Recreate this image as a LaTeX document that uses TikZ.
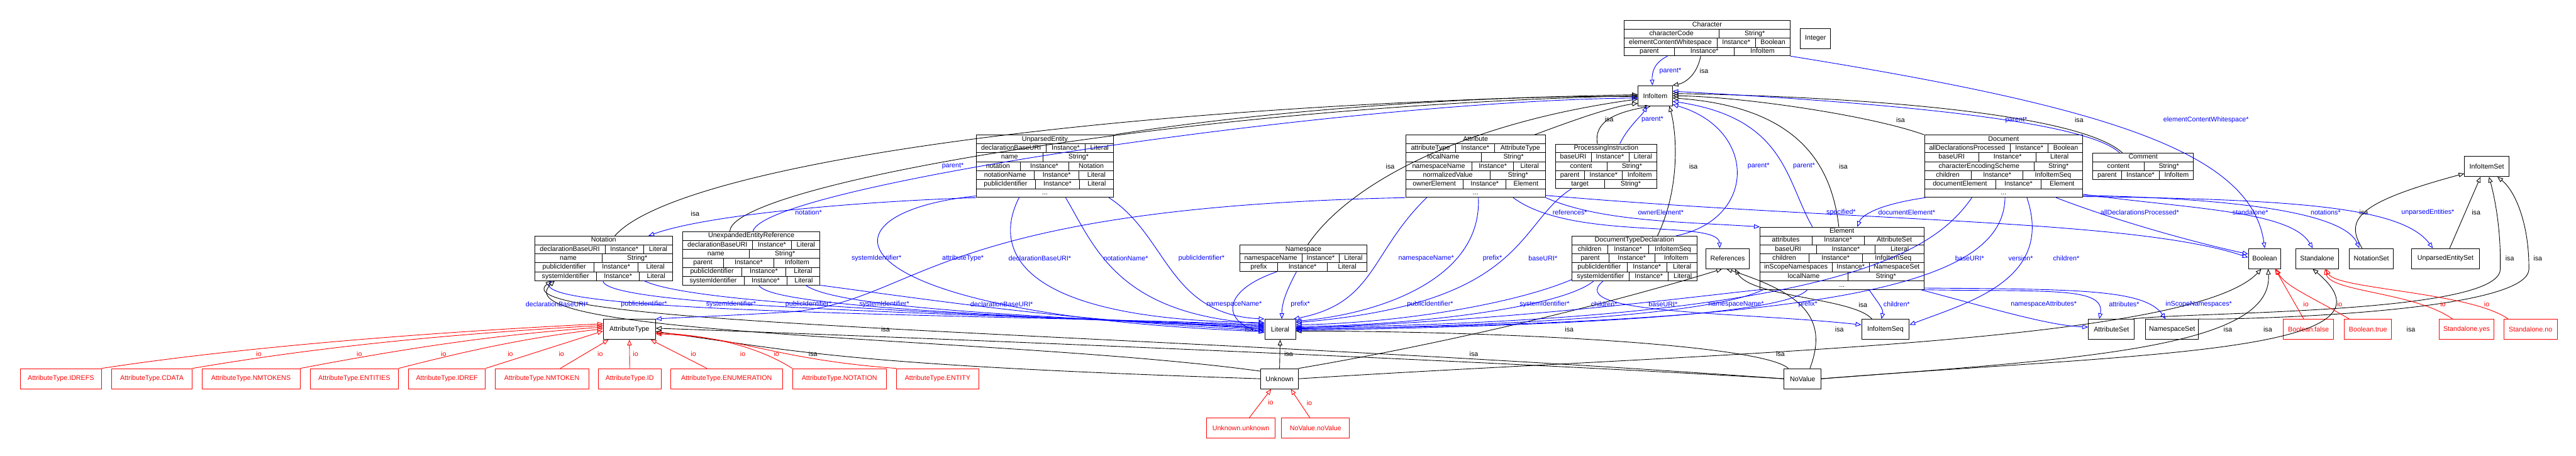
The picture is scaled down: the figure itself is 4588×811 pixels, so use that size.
\documentclass[tikz,border=0pt]{standalone}
\usepackage{fontspec}
\setmainfont{Liberation Sans}
\usetikzlibrary{arrows.meta,calc}

% slot tables: one hbox per row, free space shared out between the cells
\newlength\rw \setlength\rw{0.5pt}
\newlength\tabw \newlength\cwa \newlength\cwb \newlength\cwc \newlength\cellpad
\newcommand\strutr{\rule[-2.2pt]{0pt}{7.5pt}}
\newcommand\rowrule{\hrule height\rw}
\newcommand\rowa[1]{\hbox to\tabw{\strutr\hss#1\hss}}
\newcommand\rowb[2]{\settowidth\cwa{#1}\settowidth\cwb{#2}%
  \cellpad=\dimexpr(\tabw-\cwa-\cwb-\rw)/2\relax
  \hbox to\tabw{\strutr\hbox to\dimexpr\cwa+\cellpad\relax{\hss#1\hss}\vrule width\rw
    \hbox to\dimexpr\cwb+\cellpad\relax{\hss#2\hss}}}
\newcommand\rowc[3]{\settowidth\cwa{#1}\settowidth\cwb{#2}\settowidth\cwc{#3}%
  \cellpad=\dimexpr(\tabw-\cwa-\cwb-\cwc-2\rw)/3\relax
  \hbox to\tabw{\strutr\hbox to\dimexpr\cwa+\cellpad\relax{\hss#1\hss}\vrule width\rw
    \hbox to\dimexpr\cwb+\cellpad\relax{\hss#2\hss}\vrule width\rw
    \hbox to\dimexpr\cwc+\cellpad\relax{\hss#3\hss}}}
\newcommand\classbox[2]{\setlength\tabw{#1}\vbox{\offinterlineskip#2}}

\begin{document}
\begin{tikzpicture}[x=0.5pt,y=-0.5pt,
  cls/.style={draw,line width=0.5pt,inner sep=0pt,anchor=north west,font=\fontsize{6}{7}\selectfont},
  box/.style={cls,minimum height=18pt},
  rbox/.style={box,draw=red,text=red},
  isa/.style={draw=black,line width=0.5pt,-{Triangle[open,length=5pt,width=4pt]}},
  slot/.style={isa,draw=blue},
  io/.style={isa,draw=red},
  lk/.style={inner sep=0pt,font=\fontsize{6}{7}\selectfont},
  lb/.style={lk,text=blue},
  lr/.style={lk,text=red}]
\fill[white] (0,0) rectangle (4588,811);
\useasboundingbox (0,0) rectangle (4588,811);

% classes with slots
\node[cls] (Character) at (2892,36) {\classbox{148pt}{\rowa{Character}\rowrule\rowb{characterCode}{String*}\rowrule
  \rowc{elementContentWhitespace}{Instance*}{Boolean}\rowrule\rowc{parent}{Instance*}{InfoItem}}};
\node[cls] (UnparsedEntity) at (1738,240) {\classbox{122.5pt}{\rowa{UnparsedEntity}\rowrule
  \rowc{declarationBaseURI}{Instance*}{Literal}\rowrule\rowb{name}{String*}\rowrule
  \rowc{notation}{Instance*}{Notation}\rowrule\rowc{notationName}{Instance*}{Literal}\rowrule
  \rowc{publicIdentifier}{Instance*}{Literal}\rowrule\rowa{...}}};
\node[cls] (Attribute) at (2503,240) {\classbox{124.5pt}{\rowa{Attribute}\rowrule
  \rowc{attributeType}{Instance*}{AttributeType}\rowrule\rowb{localName}{String*}\rowrule
  \rowc{namespaceName}{Instance*}{Literal}\rowrule\rowb{normalizedValue}{String*}\rowrule
  \rowc{ownerElement}{Instance*}{Element}\rowrule\rowa{...}}};
\node[cls] (ProcInstr) at (2770,256) {\classbox{90pt}{\rowa{ProcessingInstruction}\rowrule
  \rowc{baseURI}{Instance*}{Literal}\rowrule\rowb{content}{String*}\rowrule
  \rowc{parent}{Instance*}{InfoItem}\rowrule\rowb{target}{String*}}};
\node[cls] (Document) at (3427,240) {\classbox{141pt}{\rowa{Document}\rowrule
  \rowc{allDeclarationsProcessed}{Instance*}{Boolean}\rowrule\rowc{baseURI}{Instance*}{Literal}\rowrule
  \rowb{characterEncodingScheme}{String*}\rowrule\rowc{children}{Instance*}{InfoItemSeq}\rowrule
  \rowc{documentElement}{Instance*}{Element}\rowrule\rowa{...}}};
\node[cls] (Comment) at (3727,272) {\classbox{89.5pt}{\rowa{Comment}\rowrule\rowb{content}{String*}\rowrule
  \rowc{parent}{Instance*}{InfoItem}}};
\node[cls] (Notation) at (952,420) {\classbox{122.5pt}{\rowa{Notation}\rowrule
  \rowc{declarationBaseURI}{Instance*}{Literal}\rowrule\rowb{name}{String*}\rowrule
  \rowc{publicIdentifier}{Instance*}{Literal}\rowrule\rowc{systemIdentifier}{Instance*}{Literal}}};
\node[cls] (UnexpRef) at (1215,412) {\classbox{122.5pt}{\rowa{UnexpandedEntityReference}\rowrule
  \rowc{declarationBaseURI}{Instance*}{Literal}\rowrule\rowb{name}{String*}\rowrule
  \rowc{parent}{Instance*}{InfoItem}\rowrule\rowc{publicIdentifier}{Instance*}{Literal}\rowrule
  \rowc{systemIdentifier}{Instance*}{Literal}}};
\node[cls] (Namespace) at (2208,436) {\classbox{113pt}{\rowa{Namespace}\rowrule
  \rowc{namespaceName}{Instance*}{Literal}\rowrule\rowc{prefix}{Instance*}{Literal}}};
\node[cls] (DocTypeDecl) at (2799,420) {\classbox{111.5pt}{\rowa{DocumentTypeDeclaration}\rowrule
  \rowc{children}{Instance*}{InfoItemSeq}\rowrule\rowc{parent}{Instance*}{InfoItem}\rowrule
  \rowc{publicIdentifier}{Instance*}{Literal}\rowrule\rowc{systemIdentifier}{Instance*}{Literal}}};
\node[cls] (Element) at (3134,404) {\classbox{146pt}{\rowa{Element}\rowrule
  \rowc{attributes}{Instance*}{AttributeSet}\rowrule\rowc{baseURI}{Instance*}{Literal}\rowrule
  \rowc{children}{Instance*}{InfoItemSeq}\rowrule\rowc{inScopeNamespaces}{Instance*}{NamespaceSet}\rowrule
  \rowb{localName}{String*}\rowrule\rowa{...}}};

% plain classes
\node[box,minimum width=27pt] (Integer) at (3206,50) {Integer};
\node[box,minimum width=30.5pt] (InfoItem) at (2917,152) {InfoItem};
\node[box,minimum width=39.5pt] (InfoItemSet) at (4389,278) {InfoItemSet};
\node[box,minimum width=46.5pt] (AttrType) at (1074,568) {AttributeType};
\node[box,minimum width=27.5pt] (Literal) at (2252,568) {Literal};
\node[box,minimum width=38.5pt] (References) at (3038,442) {References};
\node[box,minimum width=42.5pt] (InfoItemSeq) at (3315,568) {InfoItemSeq};
\node[box,minimum width=41pt] (AttributeSet) at (3719,568) {AttributeSet};
\node[box,minimum width=47pt] (NamespaceSet) at (3821,568) {NamespaceSet};
\node[box,minimum width=29pt] (Boolean) at (4004,442) {Boolean};
\node[box,minimum width=38.5pt] (Standalone) at (4088,442) {Standalone};
\node[box,minimum width=39pt] (NotationSet) at (4184,442) {NotationSet};
\node[box,minimum width=60pt] (UnparsedEntitySet) at (4295,442) {UnparsedEntitySet};
\node[box,minimum width=33.5pt] (Unknown) at (2245,656) {Unknown};
\node[box,minimum width=33pt] (NoValue) at (3177,656) {NoValue};

% instances
\foreach \nm/\xa/\bw in {IDREFS/36/144,CDATA/198/144,NMTOKENS/359/175,ENTITIES/552/157,IDREF/727/137,
  NMTOKEN/881/167,ID/1065/112,ENUMERATION/1194/199,NOTATION/1411/167,ENTITY/1596/147}
  \node[rbox,minimum width=\bw*0.5pt] (\nm) at (\xa,656) {AttributeType.\nm};
\node[rbox,minimum width=45pt] (BoolFalse) at (4066,568) {Boolean.false};
\node[rbox,minimum width=42pt] (BoolTrue) at (4175,568) {Boolean.true};
\node[rbox,minimum width=48.5pt] (StandYes) at (4344,568) {Standalone.yes};
\node[rbox,minimum width=47.5pt] (StandNo) at (4459,568) {Standalone.no};
\node[rbox,minimum width=61.5pt] (UnknownUnknown) at (2148,744) {Unknown.unknown};
\node[rbox,minimum width=60.5pt] (NoValueNoValue) at (2282,744) {NoValue.noValue};

% isa
\draw[isa] ($(Character.south west)+(137,0)$) .. controls (3022,135) and (3000,148) .. (InfoItem.north east) node[lk] at (3035,126) {isa};
\draw[isa] ($(Attribute.north west)+(230,0)$) .. controls (2800,215) and (2870,190) .. ($(InfoItem.south west)+(0,-5)$) node[lk] at (2866,213) {isa};
\draw[isa] (UnparsedEntity.north east) .. controls (2300,190) and (2700,168) .. ($(InfoItem.west)+(0,2)$);
\draw[isa] ($(Notation.north west)+(143,0)$) .. controls (1200,300) and (1900,190) .. ($(InfoItem.west)+(0,-2)$) node[lk] at (1238,380) {isa};
\draw[isa] ($(UnexpRef.north west)+(85,0)$) .. controls (1300,330) and (2100,190) .. (InfoItem.west);
\draw[isa] ($(Namespace.north west)+(121,0)$) .. controls (2400,330) and (2600,220) .. ($(InfoItem.west)+(0,6)$) node[lk] at (2476,296) {isa};
\draw[isa] ($(ProcInstr.north west)+(75,0)$) .. controls (2838,215) and (2880,200) .. ($(InfoItem.south)+(-8,0)$);
\draw[isa] ($(DocTypeDecl.north west)+(153,0)$) .. controls (2995,330) and (2985,230) .. ($(InfoItem.south east)+(-6,0)$) node[lk] at (3016,296) {isa};
\draw[isa] ($(Element.north west)+(141,0)$) .. controls (3262,290) and (3200,190) .. ($(InfoItem.east)+(0,4)$) node[lk] at (3283,296) {isa};
\draw[isa] (Document.north west) .. controls (3330,205) and (3100,172) .. (InfoItem.east) node[lk] at (3385,214) {isa};
\draw[isa] ($(Comment.north west)+(53,0)$) .. controls (3700,200) and (3300,172) .. ($(InfoItem.east)+(0,-4)$) node[lk] at (3703,214) {isa};
\draw[isa] ($(NotationSet.north west)+(23,0)$) .. controls (4175,390) and (4200,360) .. ($(InfoItemSet.south west)+(0,-6)$) node[lk] at (4210,378) {isa};
\draw[isa] ($(UnparsedEntitySet.north west)+(68,0)$) -- ($(InfoItemSet.south)+(-11,0)$) node[lk] at (4410,378) {isa};
\draw[isa] ($(AttributeSet.north east)+(-4,0)$) .. controls (3900,555) and (4450,560) .. (4453,480) .. controls (4455,400) and (4440,340) .. ($(InfoItemSet.south)+(4,0)$) node[lk] at (4470,460) {isa};
\draw[isa] (NamespaceSet.north east) .. controls (3950,570) and (4500,560) .. (4504,480) .. controls (4505,400) and (4480,340) .. ($(InfoItemSet.south)+(19,0)$) node[lk] at (4520,460) {isa};
\draw[isa] ($(InfoItemSeq.north west)+(19,0)$) .. controls (3300,530) and (3120,530) .. ($(References.south)+(13,0)$) node[lk] at (3318,543) {isa};
\draw[isa] (Unknown.north) -- (Literal.south) node[lk] at (2295,630) {isa};
\draw[isa] (Unknown.west) .. controls (1500,650) and (1420,625) .. ($(AttrType.east)+(0,4)$) node[lk] at (1448,630) {isa};
\draw[isa] (NoValue.west) .. controls (2600,640) and (1600,600) .. ($(AttrType.east)+(0,-2)$) node[lk] at (2625,630) {isa};
\draw[isa] ($(NoValue.north west)+(8,0)$) .. controls (3140,615) and (2700,590) .. ($(Literal.east)+(0,3)$) node[lk] at (3171,630) {isa};
\draw[isa] ($(NoValue.north)+(13,0)$) .. controls (3260,560) and (3200,520) .. ($(References.south)+(-2,0)$) node[lk] at (3276,586) {isa};
\draw[isa] (Unknown.north east) .. controls (2700,590) and (3000,500) .. ($(References.south)+(-10,0)$) node[lk] at (2795,586) {isa};
\draw[isa] (Unknown.east) .. controls (3000,630) and (3900,615) .. ($(Boolean.south)+(-6,0)$) node[lk] at (3968,586) {isa};
\draw[isa] (NoValue.east) .. controls (3700,640) and (4050,620) .. ($(Boolean.south)+(6,0)$) node[lk] at (4039,586) {isa};
\draw[isa] (NoValue.east) .. controls (3800,630) and (4300,630) .. ($(Standalone.south)+(-8,0)$) node[lk] at (4294,586) {isa};
\draw[isa] (NoValue.west) .. controls (2000,590) and (880,580) .. ($(Notation.south west)+(30,0)$) node[lk] at (1577,586) {isa};
\draw[isa] ($(Unknown.north west)+(0,5)$) .. controls (1800,600) and (880,600) .. ($(Notation.south west)+(36,0)$) node[lk] at (2225,586) {isa};

% slots
\draw[slot] ($(Character.south west)+(78,0)$) .. controls (2945,112) and (2942,130) .. ($(InfoItem.north)+(-5,0)$) node[lb] at (2975,126) {parent*};
\draw[slot] (Character.south east) .. controls (3750,190) and (4010,270) .. (Boolean.north) node[lb] at (3929,214) {elementContentWhitespace*};
\draw[slot] ($(ProcInstr.north west)+(115,0)$) .. controls (2900,225) and (2925,205) .. ($(InfoItem.south)+(-15,0)$) node[lb] at (2943,213) {parent*};
\draw[slot] ($(UnexpRef.north west)+(126,0)$) .. controls (1360,330) and (2400,180) .. ($(InfoItem.west)+(0,4)$) node[lb] at (1697,296) {parent*};
\draw[slot] (UnparsedEntity.south west) .. controls (1500,360) and (1250,385) .. ($(Notation.north east)+(-43,0)$) node[lb] at (1440,378) {notation*};
\draw[slot] ($(UnparsedEntity.south west)+(0,-3)$) .. controls (1440,380) and (1470,560) .. ($(Literal.west)+(0,4)$) node[lb] at (1561,460) {systemIdentifier*};
\draw[slot] (Attribute.south west) .. controls (1640,370) and (1640,540) .. (1400,556) .. controls (1300,562) and (1200,566) .. (AttrType.north east) node[lb] at (1715,460) {attributeType*};
\draw[slot] ($(UnparsedEntity.south west)+(77,0)$) .. controls (1770,440) and (1800,570) .. ($(Literal.west)+(0,-12)$) node[lb] at (1852,460) {declarationBaseURI*};
\draw[slot] ($(UnparsedEntity.south west)+(160,0)$) .. controls (1950,440) and (1990,560) .. ($(Literal.west)+(0,-10)$) node[lb] at (2005,460) {notationName*};
\draw[slot] ($(UnparsedEntity.south west)+(237,0)$) .. controls (2080,420) and (2080,560) .. (Literal.north west) node[lb] at (2140,460) {publicIdentifier*};
\draw[slot] ($(Notation.south west)+(31,0)$) .. controls (900,560) and (1800,560) .. ($(Literal.west)+(0,-8)$) node[lb] at (992,542) {declarationBaseURI*};
\draw[slot] ($(Notation.south west)+(122,0)$) .. controls (1075,550) and (1800,560) .. ($(Literal.west)+(0,-6)$) node[lb] at (1147,542) {publicIdentifier*};
\draw[slot] ($(Notation.south west)+(195,0)$) .. controls (1240,545) and (1800,562) .. ($(Literal.west)+(0,-4)$) node[lb] at (1302,542) {systemIdentifier*};
\draw[slot] ($(UnexpRef.south west)+(137,0)$) .. controls (1370,550) and (1900,565) .. ($(Literal.west)+(0,-2)$) node[lb] at (1440,542) {publicIdentifier*};
\draw[slot] ($(UnexpRef.south west)+(220,0)$) .. controls (1500,555) and (1950,565) .. (Literal.west) node[lb] at (1575,542) {systemIdentifier*};
\draw[slot] (UnexpRef.south east) .. controls (1700,540) and (1900,570) .. ($(Literal.west)+(0,2)$) node[lb] at (1784,542) {declarationBaseURI*};
\draw[slot] ($(Namespace.south west)+(66,0)$) .. controls (2170,520) and (2180,575) .. ($(Literal.west)+(0,6)$) node[lb] at (2198,542) {namespaceName*};
\draw[slot] ($(Namespace.south west)+(101,0)$) .. controls (2290,520) and (2283,540) .. ($(Literal.north west)+(31,0)$) node[lb] at (2316,542) {prefix*};
\draw[slot] ($(Attribute.south west)+(38,0)$) .. controls (2440,450) and (2450,540) .. ($(Literal.north east)+(-4,0)$) node[lb] at (2540,460) {namespaceName*};
\draw[slot] ($(Attribute.south west)+(130,0)$) .. controls (2640,500) and (2450,560) .. ($(Literal.north east)+(0,4)$) node[lb] at (2658,460) {prefix*};
\draw[slot] ($(ProcInstr.south west)+(29,0)$) .. controls (2700,400) and (2720,540) .. ($(Literal.east)+(0,-12)$) node[lb] at (2748,460) {baseURI*};
\draw[slot] ($(DocTypeDecl.south west)+(0,-2)$) .. controls (2700,540) and (2500,575) .. ($(Literal.east)+(0,-8)$) node[lb] at (2547,542) {publicIdentifier*};
\draw[slot] ($(DocTypeDecl.south west)+(40,0)$) .. controls (2780,550) and (2500,580) .. ($(Literal.east)+(0,-5)$) node[lb] at (2751,542) {systemIdentifier*};
\draw[slot] (Element.south west) .. controls (3000,530) and (2700,570) .. ($(Literal.east)+(0,-2)$) node[lb] at (2962,542) {baseURI*};
\draw[slot] ($(Element.south west)+(6,0)$) .. controls (3050,560) and (2700,580) .. (Literal.east) node[lb] at (3092,542) {namespaceName*};
\draw[slot] ($(Element.south west)+(85,0)$) .. controls (3180,560) and (2800,580) .. ($(Literal.east)+(0,2)$) node[lb] at (3220,542) {prefix*};
\draw[slot] ($(Document.south west)+(85,0)$) .. controls (3450,440) and (3300,570) .. ($(Literal.east)+(0,-3)$) node[lb] at (3508,460) {baseURI*};
\draw[slot] ($(Document.south west)+(144,0)$) .. controls (3568,500) and (3300,575) .. ($(Literal.east)+(0,-1)$) node[lb] at (3599,460) {version*};
\draw[slot] ($(DocTypeDecl.south west)+(57,0)$) .. controls (2780,560) and (3100,555) .. ($(InfoItemSeq.west)+(0,-8)$) node[lb] at (2857,542) {children*};
\draw[slot] ($(Element.south west)+(195,0)$) .. controls (3345,540) and (3355,550) .. ($(InfoItemSeq.north west)+(36,0)$) node[lb] at (3378,542) {children*};
\draw[slot] ($(Document.south west)+(183,0)$) .. controls (3660,500) and (3500,540) .. ($(InfoItemSeq.east)+(0,-8)$) node[lb] at (3680,460) {children*};
\draw[slot] (Element.south east) .. controls (3650,520) and (3750,510) .. ($(AttributeSet.north west)+(20,0)$) node[lb] at (3783,542) {attributes*};
\draw[slot] ($(Element.south east)+(0,-3)$) .. controls (3700,515) and (3820,515) .. ($(NamespaceSet.north west)+(36,0)$) node[lb] at (3916,542) {inScopeNamespaces*};
\draw[slot] ($(Element.south east)+(-6,0)$) .. controls (3550,550) and (3650,580) .. ($(AttributeSet.west)+(0,-4)$) node[lb] at (3640,542) {namespaceAttributes*};
\draw[slot] ($(Element.north west)+(94,0)$) .. controls (3180,320) and (3180,210) .. ($(InfoItem.east)+(0,10)$) node[lb] at (3213,296) {parent*};
\draw[slot] ($(DocTypeDecl.north east)+(-38,0)$) .. controls (3130,390) and (3130,230) .. ($(InfoItem.south east)+(0,-3)$) node[lb] at (3132,296) {parent*};
\draw[slot] ($(Comment.north west)+(48,0)$) .. controls (3710,210) and (3300,180) .. ($(InfoItem.east)+(0,-8)$) node[lb] at (3591,214) {parent*};
\draw[slot] ($(Attribute.south west)+(192,0)$) .. controls (2800,430) and (3060,390) .. ($(References.north)+(-14,0)$) node[lb] at (2796,378) {references*};
\draw[slot] (Attribute.south east) .. controls (2850,395) and (3000,395) .. (Element.north west) node[lb] at (2958,378) {ownerElement*};
\draw[slot] ($(Attribute.south east)+(0,-4)$) .. controls (3300,395) and (3800,390) .. ($(Boolean.west)+(0,-2)$) node[lb] at (3279,378) {specified*};
\draw[slot] ($(Document.south west)+(2,0)$) .. controls (3340,365) and (3315,385) .. ($(Element.north west)+(174,0)$) node[lb] at (3396,378) {documentElement*};
\draw[slot] ($(Document.south west)+(235,0)$) .. controls (3760,390) and (3900,430) .. ($(Boolean.west)+(0,-8)$) node[lb] at (3811,378) {allDeclarationsProcessed*};
\draw[slot] ($(Document.south east)+(0,-6)$) .. controls (3900,372) and (4080,375) .. ($(Standalone.north)+(-8,0)$) node[lb] at (4008,378) {standalone*};
\draw[slot] ($(Document.south east)+(0,-4)$) .. controls (4050,355) and (4180,390) .. ($(NotationSet.north west)+(18,0)$) node[lb] at (4142,378) {notations*};
\draw[slot] ($(Document.south east)+(0,-2)$) .. controls (4100,355) and (4280,370) .. ($(UnparsedEntitySet.north west)+(38,0)$) node[lb] at (4324,378) {unparsedEntities*};

% instance of
\draw[io] (IDREFS.north east) .. controls (450,615) and (800,590) .. ($(AttrType.west)+(0,-10)$) node[lr] at (461,630) {io};
\draw[io] (CDATA.north east) .. controls (600,612) and (850,592) .. ($(AttrType.west)+(0,-7)$) node[lr] at (640,630) {io};
\draw[io] (NMTOKENS.north east) .. controls (750,615) and (900,595) .. ($(AttrType.west)+(0,-4)$) node[lr] at (790,630) {io};
\draw[io] (ENTITIES.north east) .. controls (850,620) and (950,600) .. ($(AttrType.west)+(0,-1)$) node[lr] at (909,630) {io};
\draw[io] (IDREF.north east) -- ($(AttrType.west)+(0,3)$) node[lr] at (1000,630) {io};
\draw[io] ($(NMTOKEN.north west)+(117,0)$) -- ($(AttrType.south west)+(10,0)$) node[lr] at (1069,630) {io};
\draw[io] (ID.north) -- (AttrType.south) node[lr] at (1132,630) {io};
\draw[io] ($(ENUMERATION.north west)+(65,0)$) -- ($(AttrType.south east)+(-9,0)$) node[lr] at (1235,630) {io};
\draw[io] (NOTATION.north west) .. controls (1370,630) and (1300,600) .. ($(AttrType.east)+(0,6)$) node[lr] at (1323,630) {io};
\draw[io] (ENTITY.north west) .. controls (1380,640) and (1320,600) .. ($(AttrType.east)+(0,8)$) node[lr] at (1383,630) {io};
\draw[io] ($(BoolFalse.north west)+(37,0)$) -- ($(Boolean.south east)+(-11,0)$) node[lr] at (4107,542) {io};
\draw[io] ($(BoolTrue.north west)+(9,0)$) .. controls (4120,530) and (4070,510) .. ($(Boolean.south east)+(-9,0)$) node[lr] at (4167,542) {io};
\draw[io] ($(StandYes.north west)+(24,0)$) .. controls (4300,520) and (4150,520) .. ($(Standalone.south)+(14,0)$) node[lr] at (4351,542) {io};
\draw[io] ($(StandNo.north west)+(8,0)$) .. controls (4400,520) and (4160,515) .. ($(Standalone.south)+(16,0)$) node[lr] at (4429,542) {io};
\draw[io] ($(UnknownUnknown.north west)+(77,0)$) -- ($(Unknown.south)+(-15,0)$) node[lr] at (2263,717) {io};
\draw[io] ($(NoValueNoValue.north west)+(51,0)$) -- ($(Unknown.south east)+(-14,0)$) node[lr] at (2332,718) {io};
\end{tikzpicture}
\end{document}
